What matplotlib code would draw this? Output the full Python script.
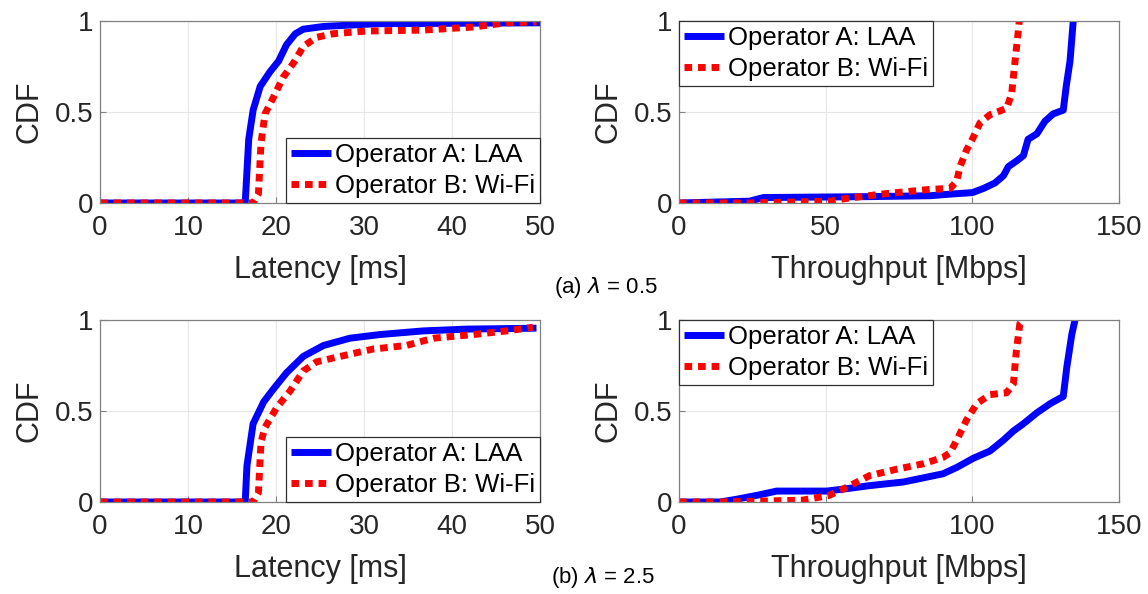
import numpy as np
import matplotlib
matplotlib.use("Agg")
import matplotlib.pyplot as plt

# latency CDFs (ms), lambda = 0.5
lat_a_x_05 = [0, 16.5, 16.9, 17.4, 18.2, 19.3, 20.3, 21.2, 22.2, 23.1, 25.4, 31.4, 50]
lat_a_y_05 = [0, 0, 0.35, 0.51, 0.64, 0.72, 0.78, 0.87, 0.93, 0.955, 0.97, 0.985, 0.99]
lat_b_x_05 = [0, 17.4, 18.0, 18.3, 18.75, 19.7, 20.8, 22.0, 23.1, 24.6, 26.5, 30.3, 36.7, 42.4, 46.2, 49.6]
lat_b_y_05 = [0, 0, 0.05, 0.33, 0.49, 0.58, 0.69, 0.77, 0.86, 0.91, 0.93, 0.945, 0.95, 0.967, 0.99, 0.995]

# throughput CDFs (Mbps), lambda = 0.5
thr_a_x_05 = [0, 24, 28.8, 65, 85.6, 93.5, 100, 103.8, 107.7, 110.6, 112.3, 115, 117.4, 119, 122, 124.8, 127.6, 131, 132, 133.3, 134.4]
thr_a_y_05 = [0, 0.01, 0.03, 0.035, 0.04, 0.05, 0.057, 0.08, 0.11, 0.15, 0.2, 0.23, 0.26, 0.35, 0.38, 0.45, 0.49, 0.51, 0.64, 0.78, 1.0]
thr_b_x_05 = [0, 24.2, 51.5, 57, 69.7, 85.6, 92.4, 94.7, 95.8, 98, 100.3, 102.6, 106, 111.7, 113.4, 114.5, 115.7, 116]
thr_b_y_05 = [0, 0.0, 0.01, 0.025, 0.05, 0.075, 0.08, 0.12, 0.2, 0.29, 0.36, 0.44, 0.485, 0.52, 0.6, 0.77, 0.95, 1.0]

# latency CDFs (ms), lambda = 2.5
lat_a_x_25 = [0, 16.5, 16.7, 17.4, 18.6, 19.7, 21.2, 23.1, 25.4, 28.4, 31.8, 36.7, 41.7, 49.6]
lat_a_y_25 = [0, 0, 0.2, 0.43, 0.55, 0.62, 0.71, 0.8, 0.86, 0.9, 0.92, 0.94, 0.95, 0.955]
lat_b_x_25 = [0, 17.4, 18.0, 18.3, 18.75, 20.1, 21.6, 23.1, 24.6, 27.3, 31, 34.8, 37.9, 42.4, 46.2, 49.2]
lat_b_y_25 = [0, 0, 0.05, 0.33, 0.41, 0.52, 0.61, 0.72, 0.77, 0.8, 0.84, 0.86, 0.9, 0.92, 0.94, 0.96]

# throughput CDFs (Mbps), lambda = 2.5
thr_a_x_25 = [0, 14, 19.6, 27.6, 33.3, 50.3, 57.1, 65, 76.5, 90, 94.7, 100.3, 106, 110.6, 114, 117.4, 122, 126.5, 131, 132.2, 133.9, 135]
thr_a_y_25 = [0, 0, 0.015, 0.04, 0.06, 0.06, 0.073, 0.09, 0.11, 0.155, 0.19, 0.24, 0.28, 0.34, 0.39, 0.43, 0.49, 0.54, 0.58, 0.74, 0.92, 1.0]
thr_b_x_25 = [0, 14, 42, 51, 57.1, 65, 74.2, 83.3, 90, 92.4, 94.7, 98, 101.5, 106, 111.7, 114, 115, 116.2, 117.4]
thr_b_y_25 = [0, 0, 0.01, 0.035, 0.08, 0.145, 0.18, 0.21, 0.245, 0.27, 0.34, 0.45, 0.54, 0.59, 0.6, 0.65, 0.83, 0.98, 1.0]

labels = ["Operator A: LAA", "Operator B: Wi-Fi"]

plt.rcParams['font.family'] = ['Liberation Sans', 'DejaVu Sans']
plt.rcParams['mathtext.fontset'] = 'dejavusans'

fig = plt.figure(figsize=(11.48, 5.94), dpi=100)

W = 440/1148
H = 182/594
positions = [
	[100/1148, 1 - 203/594, W, H],
	[679/1148, 1 - 203/594, W, H],
	[100/1148, 1 - 502/594, W, H],
	[679/1148, 1 - 502/594, W, H],
]

panels = [
	(lat_a_x_05, lat_a_y_05, lat_b_x_05, lat_b_y_05, 50, [0, 10, 20, 30, 40, 50], "Latency [ms]", "lower right"),
	(thr_a_x_05, thr_a_y_05, thr_b_x_05, thr_b_y_05, 150, [0, 50, 100, 150], "Throughput [Mbps]", "upper left"),
	(lat_a_x_25, lat_a_y_25, lat_b_x_25, lat_b_y_25, 50, [0, 10, 20, 30, 40, 50], "Latency [ms]", "lower right"),
	(thr_a_x_25, thr_a_y_25, thr_b_x_25, thr_b_y_25, 150, [0, 50, 100, 150], "Throughput [Mbps]", "upper left"),
]

for pos, p in zip(positions, panels):
	ax = fig.add_axes(pos)
	ax_x, ax_y, bx, by, xmax, xticks, xlabel, loc = p
	ax.plot(ax_x, ax_y, color='#0000ff', lw=5, solid_capstyle='butt', label=labels[0])
	ax.plot(bx, by, color='#ff0000', lw=5, dashes=(1.1, 0.85), dash_capstyle='butt', label=labels[1])
	ax.set_xlim(0, xmax)
	ax.set_ylim(0, 1)
	ax.set_xticks(xticks)
	ax.set_yticks([0, 0.5, 1])
	ax.set_yticklabels(["0", "0.5", "1"])
	ax.grid(True, color='#e6e6e6', lw=0.8)
	ax.set_axisbelow(True)
	for s in ax.spines.values():
		s.set_color('#808080')
		s.set_linewidth(0.9)
	ax.tick_params(direction='in', length=4, color='#808080', labelsize=20, labelcolor='#262626')
	ax.tick_params(axis='x', pad=9)
	ax.tick_params(axis='y', pad=5)
	ax.set_xlabel(xlabel, fontsize=22, labelpad=10, color='#262626')
	ax.set_ylabel("CDF", fontsize=22, labelpad=7, color='#262626')
	leg = ax.legend(loc=loc, fontsize=18.5, fancybox=False, framealpha=1,
		edgecolor='#303030', borderpad=0.2, labelspacing=0.25,
		handlelength=1.55, handletextpad=0.15, borderaxespad=0.0)
	leg.get_frame().set_linewidth(0.9)

fig.text(606/1148, 1 - 287/594, r"(a) $\lambda$ = 0.5", fontsize=16, ha='center', va='center')
fig.text(603/1148, 1 - 578/594, r"(b) $\lambda$ = 2.5", fontsize=16, ha='center', va='center')

fig.savefig("out.png", dpi=100)
